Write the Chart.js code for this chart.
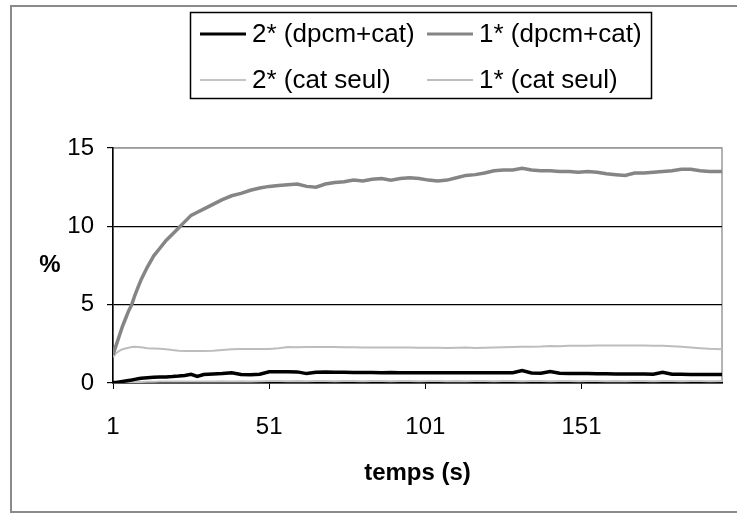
<!DOCTYPE html>
<html><head><meta charset="utf-8">
<script src="https://cdn.jsdelivr.net/npm/chart.js@4.4.1/dist/chart.umd.min.js"></script>
<style>
html,body{margin:0;padding:0;background:#fff;}
#wrap{position:relative;width:737px;height:515px;overflow:hidden;}
#frame{position:absolute;left:10px;top:5px;width:740px;height:508px;border:2px solid #8a8a8a;box-sizing:border-box;pointer-events:none;}
canvas{position:absolute;left:0;top:0;}
</style></head>
<body><div id="wrap"><canvas id="c" width="737" height="515"></canvas><div id="frame"></div></div>
<script>
// ---- data ----
const times = [1,2,3,4,5,6,7,8,9,10,12,14,16,18,20,22,24,26,28,30,33,36,39,42,45,48,
  51,54,57,60,63,66,69,72,75,78,81,84,87,90,93,96,99,102,105,108,111,114,117,120,
  123,126,129,132,135,138,141,144,147,150,153,156,159,162,165,168,171,174,177,180,
  183,186,189,192,196];
const s2DpcmCat = [0.03,0.04,0.07,0.10,0.13,0.16,0.19,0.23,0.27,0.30,0.34,0.36,0.38,0.39,0.41,0.44,0.48,0.56,0.42,0.54,0.57,0.60,0.66,0.55,0.53,0.56,
  0.72,0.72,0.72,0.71,0.60,0.68,0.70,0.68,0.68,0.67,0.67,0.67,0.66,0.67,0.66,0.66,0.66,0.66,0.65,0.66,0.66,0.65,0.65,0.66,
  0.65,0.65,0.66,0.79,0.64,0.63,0.73,0.62,0.60,0.60,0.60,0.59,0.59,0.58,0.58,0.57,0.57,0.56,0.68,0.56,
  0.56,0.55,0.55,0.55,0.55];
const s1DpcmCat = [1.8,2.4,3.0,3.6,4.1,4.6,5.0,5.6,6.1,6.6,7.4,8.1,8.6,9.1,9.5,9.9,10.3,10.7,10.9,11.1,11.4,11.7,11.95,12.1,12.3,12.45,
  12.55,12.6,12.65,12.7,12.55,12.5,12.7,12.8,12.85,12.95,12.9,13.0,13.05,12.95,13.05,13.1,13.05,12.95,12.9,12.95,13.1,13.25,13.3,13.4,
  13.55,13.6,13.6,13.7,13.6,13.55,13.55,13.5,13.5,13.45,13.5,13.45,13.35,13.3,13.25,13.4,13.4,13.45,13.5,13.55,
  13.65,13.65,13.55,13.5,13.5];
const s2CatSeul = [0.0,0.01,0.02,0.03,0.04,0.05,0.06,0.06,0.07,0.07,0.08,0.08,0.09,0.09,0.10,0.09,0.10,0.10,0.09,0.10,0.10,0.11,0.10,0.11,0.10,0.11,
  0.12,0.12,0.11,0.12,0.11,0.12,0.12,0.11,0.12,0.12,0.11,0.12,0.12,0.11,0.12,0.12,0.11,0.12,0.12,0.11,0.12,0.11,0.12,0.12,
  0.11,0.12,0.12,0.11,0.12,0.12,0.11,0.12,0.12,0.11,0.12,0.12,0.11,0.12,0.11,0.12,0.12,0.11,0.12,0.12,
  0.11,0.12,0.12,0.11,0.12];
const s1CatSeul = [1.65,1.9,2.05,2.15,2.2,2.25,2.3,2.32,2.3,2.28,2.22,2.2,2.18,2.15,2.1,2.06,2.05,2.05,2.04,2.05,2.06,2.1,2.15,2.17,2.17,2.17,
  2.17,2.22,2.3,2.28,2.3,2.29,2.3,2.3,2.28,2.28,2.27,2.27,2.26,2.27,2.27,2.26,2.25,2.25,2.25,2.24,2.25,2.26,2.24,2.25,
  2.27,2.28,2.3,2.31,2.32,2.33,2.36,2.35,2.37,2.38,2.38,2.39,2.4,2.39,2.4,2.4,2.39,2.38,2.37,2.35,
  2.32,2.27,2.22,2.18,2.15];
const seriesLabels = ["2* (dpcm+cat)", "1* (dpcm+cat)", "2* (cat seul)", "1* (cat seul)"];
const xTicks = [1, 51, 101, 151];
const yTicks = [0, 5, 10, 15];
const xTitle = "temps (s)";
const yTitle = "%";

// ---- styles ----
const FONT = "'Liberation Sans', Arial, Helvetica, sans-serif";
Chart.defaults.font.family = FONT;
Chart.defaults.color = '#000';
const styles = [
  {color:'#000000', width:3.5},
  {color:'#858585', width:3.5},
  {color:'#c4c4c4', width:2},
  {color:'#bdbdbd', width:2}
];
const seriesValues = [s2DpcmCat, s1DpcmCat, s2CatSeul, s1CatSeul];

const datasets = seriesValues.map((vals, i) => ({
  label: seriesLabels[i],
  data: times.map((t, k) => ({x: t, y: vals[k]})),
  borderColor: styles[i].color,
  backgroundColor: styles[i].color,
  borderWidth: styles[i].width,
  pointRadius: 0,
  tension: 0,
  fill: false
}));

const framePlugin = {
  id: 'plotFrame',
  beforeDraw(chart) {
    const {ctx, chartArea: a} = chart;
    ctx.save();
    ctx.strokeStyle = '#9a9a9a';
    ctx.lineWidth = 1.5;
    ctx.strokeRect(a.left, a.top, a.right - a.left, a.bottom - a.top);
    ctx.restore();
  }
};

const legendPlugin = {
  id: 'boxLegend',
  afterDraw(chart) {
    const ctx = chart.ctx;
    ctx.save();
    ctx.strokeStyle = '#000';
    ctx.lineWidth = 1.5;
    ctx.strokeRect(190.5, 12.5, 461, 86);
    const colX = [200, 427];
    const rowY = [34, 80];
    chart.data.datasets.forEach((ds, i) => {
      const x0 = colX[i % 2], y = rowY[Math.floor(i / 2)];
      ctx.strokeStyle = ds.borderColor;
      ctx.lineWidth = Math.min(ds.borderWidth, 3);
      ctx.beginPath(); ctx.moveTo(x0, y); ctx.lineTo(x0 + 46, y); ctx.stroke();
      ctx.fillStyle = '#000';
      ctx.font = '26px ' + FONT;
      ctx.textAlign = 'left';
      ctx.textBaseline = 'middle';
      ctx.fillText(ds.label, x0 + 52, y + 1);
    });
    ctx.font = 'bold 24px ' + FONT;
    ctx.textAlign = 'center';
    ctx.textBaseline = 'middle';
    ctx.fillStyle = '#000';
    ctx.fillText(yTitle, 50, 265);
    ctx.restore();
  }
};

new Chart(document.getElementById('c'), {
  type: 'line',
  data: {datasets},
  plugins: [framePlugin, legendPlugin],
  options: {
    responsive: false,
    animation: false,
    devicePixelRatio: 1,
    layout: {padding: {left: 0, right: 15, top: 148, bottom: 0}},
    plugins: {legend: {display: false}, tooltip: {enabled: false}},
    scales: {
      x: {
        type: 'linear',
        min: 1, max: 196,
        afterBuildTicks: s => { s.ticks = xTicks.map(v => ({value: v})); },
        afterFit: s => { s.height = 132; },
        grid: {drawOnChartArea: false, drawTicks: true, tickLength: 6, color: '#000', tickColor: '#000'},
        border: {color: '#000', width: 1.5},
        ticks: {font: {size: 24}, color: '#000', padding: 24, maxRotation: 0, autoSkip: false,
                callback: v => String(v)},
        title: {display: true, text: xTitle, color: '#000', font: {size: 24, weight: 'bold'}, padding: {top: 0, bottom: 27}}
      },
      y: {
        min: 0, max: 15,
        afterBuildTicks: s => { s.ticks = yTicks.map(v => ({value: v})); },
        afterFit: s => { s.width = 113; },
        grid: {
          color: c => (c.tick && c.tick.value === 15) ? '#9a9a9a' : (c.tick && c.tick.value === 0 ? 'rgba(0,0,0,0)' : '#000'),
          lineWidth: 1.2, tickLength: 6, tickColor: '#000'
        },
        border: {color: '#000', width: 1.5},
        ticks: {font: {size: 24}, color: '#000', padding: 13, callback: v => String(v)}
      }
    }
  }
});
</script>
</body></html>
